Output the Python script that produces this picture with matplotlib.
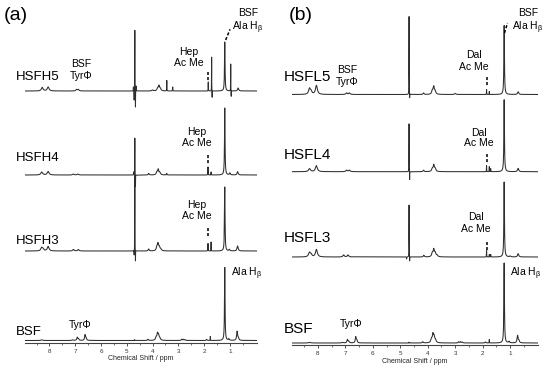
import numpy as np
import matplotlib.pyplot as plt

plt.rcParams['font.family'] = ['Liberation Sans', 'DejaVu Sans']
plt.rcParams['mathtext.fontset'] = 'custom'
plt.rcParams['mathtext.rm'] = 'Liberation Sans'
plt.rcParams['mathtext.it'] = 'Liberation Sans'

# peak lists: (shift ppm, height px, half width ppm)
bsf_a = [(8.30, 0.6, 0.04), (7.10, 0.6, 0.03), (6.92, 3.2, 0.022), (6.87, 1.5, 0.02),
         (6.62, 5.5, 0.02), (6.58, 2.5, 0.02), (4.70, 0.8, 0.005), (4.18, 1.2, 0.02),
         (3.86, 3, 0.03), (3.81, 6, 0.022), (3.77, 5, 0.025), (3.72, 2, 0.03),
         (2.87, 1.2, 0.02), (2.80, 1.2, 0.02), (2.74, 0.8, 0.02), (1.90, 1, 0.02),
         (1.76, 4, 0.004), (1.20, 73, 0.012), (1.04, 1.5, 0.02), (0.72, 9, 0.022),
         (0.67, 2, 0.02)]
hsfh3 = [(8.30, 3.5, 0.04), (8.24, 1.5, 0.03), (8.05, 4.5, 0.04), (7.07, 1.5, 0.03),
         (6.88, 1.5, 0.03), (4.69, 76, 0.003), (4.665, -11, 0.003), (4.715, -5, 0.003),
         (4.15, 2, 0.02), (3.83, 4, 0.03), (3.79, 6, 0.022), (3.74, 4, 0.03),
         (3.68, 1.5, 0.03), (1.85, 7.5, 0.005), (1.73, 9, 0.003), (1.20, 64, 0.012),
         (1.02, 1.5, 0.02), (0.70, 5, 0.025)]
hsfh4 = [(8.30, 3, 0.04), (8.05, 3.5, 0.04), (7.07, 1, 0.03), (6.90, 1, 0.03),
         (4.69, 37, 0.003), (4.665, -12, 0.003), (4.73, 3, 0.004), (4.15, 1.5, 0.02),
         (3.83, 3, 0.03), (3.78, 5, 0.022), (3.72, 2.5, 0.03), (3.45, 1.5, 0.01),
         (1.85, 8, 0.005), (1.73, 3, 0.004), (1.20, 67, 0.012), (1.00, 2, 0.02),
         (0.70, 3.3, 0.025)]
hsfh5 = [(8.28, 3.5, 0.04), (8.05, 4, 0.04), (6.95, 1.5, 0.03), (6.88, 1.5, 0.03),
         (4.69, 61, 0.003), (4.665, -17, 0.003), (4.715, -10, 0.003), (4.64, 5, 0.004),
         (4.745, 4, 0.004), (4.00, 1, 0.03), (3.80, 3, 0.03), (3.75, 4.5, 0.022),
         (3.70, 2.5, 0.03), (3.45, 10.5, 0.004), (3.22, 4, 0.005), (1.84, 9, 0.004),
         (1.71, 34, 0.003), (1.69, -7, 0.003), (1.20, 49, 0.012), (0.97, 27, 0.003),
         (0.95, -6, 0.003), (0.68, 3, 0.025)]

bsf_b = [(8.30, 0.6, 0.04), (7.10, 0.6, 0.03), (6.92, 3.5, 0.022), (6.87, 1.5, 0.02),
         (6.62, 6, 0.02), (6.58, 2.5, 0.02), (4.68, 0.8, 0.005), (4.18, 1.2, 0.02),
         (3.86, 4, 0.03), (3.81, 7.5, 0.022), (3.77, 6, 0.025), (3.72, 2.5, 0.03),
         (2.87, 1.2, 0.02), (2.80, 1.2, 0.02), (2.74, 0.8, 0.02), (1.90, 1, 0.02),
         (1.76, 3.5, 0.004), (1.22, 80, 0.012), (1.04, 1.5, 0.02), (0.73, 7.5, 0.022),
         (0.68, 2, 0.02)]
hsfl3 = [(8.30, 4.5, 0.04), (8.24, 2, 0.03), (8.05, 7.5, 0.04), (7.06, 2, 0.03),
         (6.90, 2, 0.03), (4.68, 52, 0.003), (4.66, -5, 0.003), (4.77, -2, 0.003),
         (4.14, 1.7, 0.02), (3.83, 4, 0.03), (3.78, 6.5, 0.022), (3.73, 4, 0.03),
         (3.66, 1.5, 0.03), (1.86, 6.7, 0.004), (1.76, 2.5, 0.004), (1.71, 2.5, 0.004),
         (1.22, 75, 0.012), (1.00, 1, 0.02), (0.71, 3.3, 0.025)]
hsfl4 = [(8.30, 3, 0.04), (8.05, 6, 0.04), (6.95, 1.5, 0.03), (6.85, 1.5, 0.03),
         (4.68, 48, 0.003), (4.66, -9, 0.003), (4.15, 1.5, 0.02), (3.83, 3, 0.03),
         (3.78, 6, 0.022), (3.73, 3, 0.03), (1.86, 6, 0.004), (1.76, 5, 0.004),
         (1.71, 3, 0.004), (1.22, 72, 0.012), (0.71, 3.3, 0.025)]
hsfl5 = [(8.30, 6, 0.04), (8.24, 2.5, 0.03), (8.05, 9, 0.04), (6.95, 1.5, 0.03),
         (6.85, 1.5, 0.03), (4.68, 78, 0.003), (4.66, -5, 0.003), (4.15, 1.5, 0.02),
         (3.83, 4, 0.03), (3.78, 7, 0.022), (3.73, 3, 0.03), (3.00, 1, 0.03),
         (1.86, 5, 0.004), (1.76, 3, 0.004), (1.22, 69, 0.012), (0.71, 2.7, 0.025)]

names_a = ['BSF', 'HSFH3', 'HSFH4', 'HSFH5']
names_b = ['BSF', 'HSFL3', 'HSFL4', 'HSFL5']
ppm = np.linspace(-0.2, 9.1, 24000)


def spectrum(peaks):
    p = np.array(peaks)
    c, h, w = p[:, 0, None], p[:, 1, None], p[:, 2, None]
    return (h / (1 + ((ppm - c) / w) ** 2)).sum(axis=0)


W, H = 550, 370
fig = plt.figure(figsize=(5.5, 3.7), dpi=100)


def px(x, y):
    return x / W, 1 - y / H


def make_axes(left, right, axis_y, xlim):
    ax = fig.add_axes([left / W, 1 - axis_y / H, (right - left) / W, axis_y / H])
    ax.set_xlim(*xlim)
    ax.set_ylim(0, axis_y)
    for s in ['top', 'left', 'right']:
        ax.spines[s].set_visible(False)
    ax.spines['bottom'].set_linewidth(0.8)
    ax.spines['bottom'].set_color('#444444')
    ax.set_yticks([])
    ax.set_xticks(range(1, 9))
    ax.set_xticks(np.arange(0.5, 9, 0.5), minor=True)
    ax.tick_params(axis='x', which='major', direction='out', length=2, width=0.6,
                   labelsize=4.5, pad=2.5, colors='#333333')
    ax.tick_params(axis='x', which='minor', direction='out', length=1.2, width=0.5,
                   colors='#333333')
    ax.set_xlabel('Chemical Shift / ppm', fontsize=5, labelpad=1, color='#222222')
    ax.patch.set_alpha(0)
    return ax


ax_a = make_axes(25, 257, 342.5, (8.95, -0.05))
ax_b = make_axes(291.7, 537.7, 345, (8.95, 0.0))

for ax, traces, bases in [(ax_a, [bsf_a, hsfh3, hsfh4, hsfh5], [2, 91.5, 167.5, 251.5]),
                          (ax_b, [bsf_b, hsfl3, hsfl4, hsfl5], [2, 88, 173.3, 250.5])]:
    for peaks, b in zip(traces, bases):
        ax.plot(ppm, b + spectrum(peaks), color='#2e2e2e', lw=0.75)

# panel letters and sample names
fig.text(*px(16, 16), '(a)', fontsize=14, ha='center', va='center')
fig.text(*px(301, 16), '(b)', fontsize=14, ha='center', va='center')
for name, y in zip(names_a, [332, 241, 158, 77]):
    fig.text(*px(16, y), name, fontsize=9.5, ha='left', va='center')
for name, y in zip(names_b, [329, 238, 155, 77]):
    fig.text(*px(284, y), name, fontsize=11, ha='left', va='center')

small = 7.5


def label2(x, y_top, y_bot, top, bottom, fs=small):
    fig.text(*px(x, y_top), top, fontsize=fs, ha='center', va='center')
    fig.text(*px(x, y_bot), bottom, fontsize=fs, ha='center', va='center')


label2(81, 64, 76, 'BSF', 'TyrΦ')
label2(347.5, 70, 82, 'BSF', 'TyrΦ')
for x, y in [(189, 57.5), (196.7, 137.5), (196.7, 210)]:
    label2(x, y - 5.5, y + 5.5, 'Hep', 'Ac Me')
for x, y in [(474, 61), (479, 138), (476, 223)]:
    label2(x, y - 5.5, y + 5.5, 'Dal', 'Ac Me')
label2(248, 12.5, 27.5, 'BSF', r'Ala H$_{\beta}$')
label2(528, 12.5, 27.5, 'BSF', r'Ala H$_{\beta}$')
fig.text(*px(80, 325), 'TyrΦ', fontsize=small, ha='center', va='center')
fig.text(*px(351.5, 324), 'TyrΦ', fontsize=small, ha='center', va='center')
fig.text(*px(247, 274), r'Ala H$_{\beta}$', fontsize=small, ha='center', va='center')
fig.text(*px(526, 274), r'Ala H$_{\beta}$', fontsize=small, ha='center', va='center')

# dashed pointers
for (x0, y0), (x1, y1) in [((225.7, 40), (230, 29.3)), ((504.5, 33), (507.5, 23)),
                           ((208.3, 71.7), (208.3, 81.7)), ((208.3, 155), (208.3, 165)),
                           ((208.3, 228), (208.3, 238)), ((486.7, 77), (486.7, 87)),
                           ((486.7, 154), (486.7, 163)), ((486.7, 241.7), (486.7, 250))]:
    a, b = px(x0, y0), px(x1, y1)
    fig.add_artist(plt.Line2D([a[0], b[0]], [a[1], b[1]], color='black', lw=1.1,
                              linestyle=(0, (2, 1.3))))

fig.savefig('out.png', dpi=100)
